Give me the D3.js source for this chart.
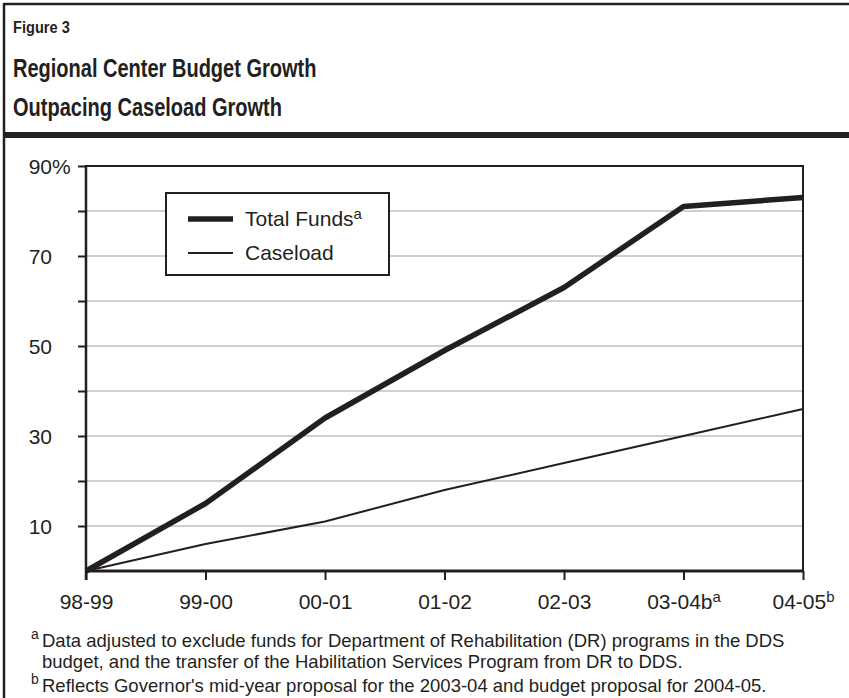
<!DOCTYPE html>
<html>
<head>
<meta charset="utf-8">
<script src="https://cdn.jsdelivr.net/npm/d3@7"></script>
<style>
  html, body { margin: 0; padding: 0; background: #fff; }
  svg { display: block; font-family: "Liberation Sans", Arial, Helvetica, sans-serif; }
</style>
</head>
<body>
<svg id="chart" width="849" height="698"></svg>
<script>
// Fiscal years on the horizontal axis
const years = ["98-99", "99-00", "00-01", "01-02", "02-03", "03-04b", "04-05"];
const yearNotes = ["", "", "", "", "", "a", "b"];

// Cumulative growth since 1998-99 (percent)
const totalFunds = [0, 15, 34, 49, 63, 81, 83];
const caseload = [0, 6, 11, 18, 24, 30, 36];

// Vertical axis
const yTicks = [10, 20, 30, 40, 50, 60, 70, 80, 90];
const yLabelled = [10, 30, 50, 70, 90];
const gridValues = [10, 20, 30, 40, 50, 60, 70, 80];

const seriesNames = ["Total Funds", "Caseload"];
const seriesNotes = ["a", ""];

const footnotes = [
  { mark: "a", text: "Data adjusted to exclude funds for Department of Rehabilitation (DR) programs in the DDS" },
  { mark: "", text: "budget, and the transfer of the Habilitation Services Program from DR to DDS." },
  { mark: "b", text: "Reflects Governor's mid-year proposal for the 2003-04 and budget proposal for 2004-05." }
];

const ink = "#231f20";
const svg = d3.select("#chart");

// Outer frame: top rule, left rule and the heavy bar under the title
svg.append("line").attr("x1", 4).attr("x2", 849).attr("y1", 4).attr("y2", 4)
  .attr("stroke", ink).attr("stroke-width", 2.5);
svg.append("line").attr("x1", 4).attr("x2", 4).attr("y1", 3).attr("y2", 698)
  .attr("stroke", ink).attr("stroke-width", 2.5);
svg.append("rect").attr("x", 3).attr("y", 132).attr("width", 846).attr("height", 6)
  .attr("fill", ink);

// Titles (condensed bold)
svg.append("text").attr("transform", "translate(13,33) scale(0.86,1)")
  .attr("font-size", 17).attr("font-weight", "bold").attr("fill", ink).text("Figure 3");
svg.append("text").attr("transform", "translate(13,77) scale(0.77,1)")
  .attr("font-size", 26).attr("font-weight", "bold").attr("fill", ink)
  .text("Regional Center Budget Growth");
svg.append("text").attr("transform", "translate(13,116) scale(0.77,1)")
  .attr("font-size", 26).attr("font-weight", "bold").attr("fill", ink)
  .text("Outpacing Caseload Growth");

// Scales
const x = d3.scalePoint().domain(years).range([86, 803]);
const y = d3.scaleLinear().domain([0, 90]).range([571, 166]);

// Gridlines
svg.append("g").selectAll("line").data(gridValues).join("line")
  .attr("x1", x.range()[0]).attr("x2", x.range()[1])
  .attr("y1", d => y(d)).attr("y2", d => y(d))
  .attr("stroke", "#bfbfbf").attr("stroke-width", 1.6);

// Plot frame: top and right edges
svg.append("path")
  .attr("d", `M${x.range()[0]},${y(90)}H${x.range()[1]}V${y(0)}`)
  .attr("fill", "none").attr("stroke", ink).attr("stroke-width", 2);

// Y axis
const yAxis = svg.append("g").attr("transform", `translate(${x.range()[0]},0)`)
  .call(d3.axisLeft(y).tickValues(yTicks).tickSize(8).tickPadding(26)
    .tickFormat(d => yLabelled.includes(d) ? String(d) : ""));
yAxis.select(".domain").remove();
yAxis.append("line").attr("x1", 0).attr("x2", 0).attr("y1", y(90) - 1).attr("y2", y(0) + 9)
  .attr("stroke", ink).attr("stroke-width", 2.5);
yAxis.selectAll(".tick line").attr("stroke", ink).attr("stroke-width", 2);
yAxis.selectAll(".tick text").attr("fill", ink).attr("font-size", 21)
  .attr("font-family", "Liberation Sans, Arial, sans-serif").attr("dy", "0.36em");
// percent sign hangs after the top label
yAxis.selectAll(".tick").filter(d => d === 90).append("text")
  .attr("x", -34).attr("dy", "0.36em").attr("text-anchor", "start")
  .attr("fill", ink).attr("font-size", 21).text("%");

// X axis
const xAxis = svg.append("g").attr("transform", `translate(0,${y(0)})`)
  .call(d3.axisBottom(x).tickSize(9).tickPadding(14));
xAxis.select(".domain").remove();
xAxis.append("line").attr("x1", x.range()[0] - 1).attr("x2", x.range()[1] + 1)
  .attr("y1", 0).attr("y2", 0).attr("stroke", ink).attr("stroke-width", 3);
xAxis.selectAll(".tick line").attr("stroke", ink).attr("stroke-width", 2);
xAxis.selectAll(".tick text").attr("fill", ink).attr("font-size", 21)
  .attr("font-family", "Liberation Sans, Arial, sans-serif")
  .each(function(d, i) {
    const note = yearNotes[i];
    if (note) {
      d3.select(this).append("tspan").attr("dy", "-0.45em").attr("font-size", 15).text(note);
    }
  });

// Series lines
const line = d3.line().x((d, i) => x(years[i])).y(d => y(d));
svg.append("path").datum(caseload).attr("d", line)
  .attr("fill", "none").attr("stroke", ink).attr("stroke-width", 2)
  .attr("stroke-linejoin", "round");
svg.append("path").datum(totalFunds).attr("d", line)
  .attr("fill", "none").attr("stroke", ink).attr("stroke-width", 5.5)
  .attr("stroke-linejoin", "round");

// Legend
const legend = svg.append("g");
legend.append("rect").attr("x", 166).attr("y", 193).attr("width", 223).attr("height", 82)
  .attr("fill", "#fff").attr("stroke", ink).attr("stroke-width", 2);
const legendRows = [
  { name: seriesNames[0], note: seriesNotes[0], width: 5.5, y: 219 },
  { name: seriesNames[1], note: seriesNotes[1], width: 2, y: 253 }
];
legendRows.forEach(r => {
  legend.append("line").attr("x1", 188).attr("x2", 233).attr("y1", r.y).attr("y2", r.y)
    .attr("stroke", ink).attr("stroke-width", r.width);
  const t = legend.append("text").attr("x", 245).attr("y", r.y + 7)
    .attr("font-size", 21).attr("fill", ink).text(r.name);
  if (r.note) t.append("tspan").attr("dy", "-0.45em").attr("font-size", 15).text(r.note);
});

// Footnotes
const fnY = [645, 668, 690];
footnotes.forEach((f, i) => {
  const t = svg.append("text").attr("y", fnY[i]).attr("font-size", 18.5).attr("fill", ink);
  if (f.mark) {
    t.append("tspan").attr("x", 31).attr("dy", "-0.45em").attr("font-size", 14).text(f.mark);
    t.append("tspan").attr("x", 42).attr("dy", "0.45em").text(f.text);
  } else {
    t.append("tspan").attr("x", 42).text(f.text);
  }
});
</script>
</body>
</html>
